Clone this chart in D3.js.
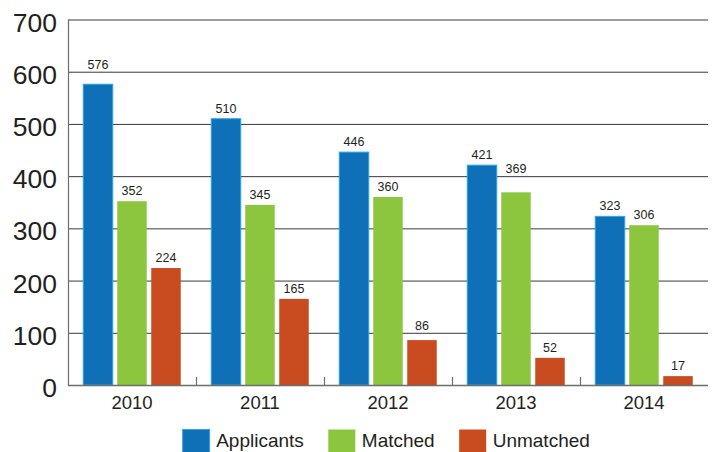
<!DOCTYPE html>
<html>
<head>
<meta charset="utf-8">
<script src="https://cdn.jsdelivr.net/npm/d3@7"></script>
<style>
  html, body { margin: 0; padding: 0; background: #fff; }
  svg { display: block; font-family: "Liberation Sans", Arial, sans-serif; }
</style>
</head>
<body>
<svg id="chart" width="713" height="452"></svg>
<script>
// Yearly counts per group
const years = ["2010", "2011", "2012", "2013", "2014"];
const applicants = [576, 510, 446, 421, 323];
const matched = [352, 345, 360, 369, 306];
const unmatched = [224, 165, 86, 52, 17];
const seriesNames = ["Applicants", "Matched", "Unmatched"];
const yTicks = [0, 100, 200, 300, 400, 500, 600, 700];

const colors = { Applicants: "#0f70b7", Matched: "#8cc63f", Unmatched: "#c94b20" };
const strokes = { Applicants: "#2ca6e0", Matched: "none", Unmatched: "none" };

const seriesValues = { Applicants: applicants, Matched: matched, Unmatched: unmatched };
const rows = years.map((yr, i) => ({
  year: yr,
  values: seriesNames.map(s => ({ key: s, value: seriesValues[s][i] }))
}));

const svg = d3.select("#chart");
const plotLeft = 68, plotRight = 708, plotTop = 19.5, plotBottom = 385;
const textColor = "#231f20";

const x = d3.scaleBand().domain(years).range([plotLeft, plotRight]).paddingInner(0).paddingOuter(0);
const xInner = d3.scaleBand().domain(seriesNames).range([0, x.bandwidth()])
  .paddingInner(0.103).paddingOuter(0.434);
const y = d3.scaleLinear().domain([0, 700]).range([plotBottom, plotTop]);

// Horizontal gridlines
svg.append("g")
  .selectAll("line")
  .data(yTicks.filter(t => t > 0))
  .join("line")
  .attr("x1", plotLeft).attr("x2", plotRight)
  .attr("y1", d => y(d) + 0.5).attr("y2", d => y(d) + 0.5)
  .attr("stroke", "#3a3a3a").attr("stroke-width", 1);

// Y axis labels
const yAxis = d3.axisLeft(y).tickValues(yTicks).tickSize(0).tickPadding(11);
const yg = svg.append("g").attr("transform", `translate(${plotLeft},0)`).call(yAxis);
yg.select(".domain").remove();
yg.selectAll("text")
  .attr("font-size", 26.5)
  .attr("fill", textColor)
  .attr("dy", null)
  .attr("transform", "translate(0,11.5)")
  .style("font-family", "'Liberation Sans', Arial, sans-serif");

// Bars
const groups = svg.append("g").selectAll("g")
  .data(rows).join("g")
  .attr("transform", d => `translate(${x(d.year)},0)`);

groups.selectAll("rect")
  .data(d => d.values).join("rect")
  .attr("x", d => xInner(d.key) + 0.5)
  .attr("width", xInner.bandwidth() - 1)
  .attr("y", d => y(d.value))
  .attr("height", d => y(0) - y(d.value))
  .attr("fill", d => colors[d.key])
  .attr("stroke", d => strokes[d.key])
  .attr("stroke-width", 1);

// Value labels: sit just above the bar, lifted above a gridline they would cross
function labelBaseline(v) {
  let b = y(v) - 6;
  for (const t of yTicks) {
    if (t === 0) continue;
    const g = y(t);
    if (g >= b - 11 && g <= b + 2) b = g - 3;
  }
  return b;
}
groups.selectAll("text.val")
  .data(d => d.values).join("text")
  .attr("class", "val")
  .attr("x", d => xInner(d.key) + xInner.bandwidth() / 2)
  .attr("y", d => labelBaseline(d.value))
  .attr("text-anchor", "middle")
  .attr("font-size", 12.5)
  .attr("fill", textColor)
  .text(d => d.value);

// Left axis line and baseline
svg.append("line")
  .attr("x1", plotLeft + 0.5).attr("x2", plotLeft + 0.5)
  .attr("y1", plotTop).attr("y2", plotBottom + 1)
  .attr("stroke", "#6d6d6d").attr("stroke-width", 1.2);
svg.append("line")
  .attr("x1", plotLeft).attr("x2", plotRight)
  .attr("y1", plotBottom + 0.5).attr("y2", plotBottom + 0.5)
  .attr("stroke", "#6d6d6d").attr("stroke-width", 1.5);

// Small separators between year groups
svg.append("g").selectAll("line")
  .data(years.slice(1))
  .join("line")
  .attr("x1", d => x(d) + 0.5).attr("x2", d => x(d) + 0.5)
  .attr("y1", plotBottom - 8).attr("y2", plotBottom)
  .attr("stroke", "#6d6d6d").attr("stroke-width", 1.2);

// Year labels
svg.append("g").selectAll("text")
  .data(years).join("text")
  .attr("x", d => x(d) + x.bandwidth() / 2)
  .attr("y", 409)
  .attr("text-anchor", "middle")
  .attr("font-size", 18.5)
  .attr("fill", textColor)
  .text(d => d);

// Legend
const legend = svg.append("g");
const sw = 28, sh = 23, gapText = 6, gapItem = 24;
let cx = 0;
seriesNames.forEach(name => {
  const g = legend.append("g").attr("transform", `translate(${cx},0)`);
  g.append("rect").attr("x", 0.5).attr("y", 429.5).attr("width", sw - 1).attr("height", sh)
    .attr("fill", colors[name]).attr("stroke", strokes[name]).attr("stroke-width", 1);
  const t = g.append("text").attr("x", sw + gapText).attr("y", 447)
    .attr("font-size", 19).attr("fill", textColor).text(name);
  const w = t.node().getComputedTextLength();
  cx += sw + gapText + w + gapItem;
});
const totalW = cx - gapItem;
legend.attr("transform", `translate(${(plotLeft + plotRight) / 2 - totalW / 2 - 2},0)`);
</script>
</body>
</html>
